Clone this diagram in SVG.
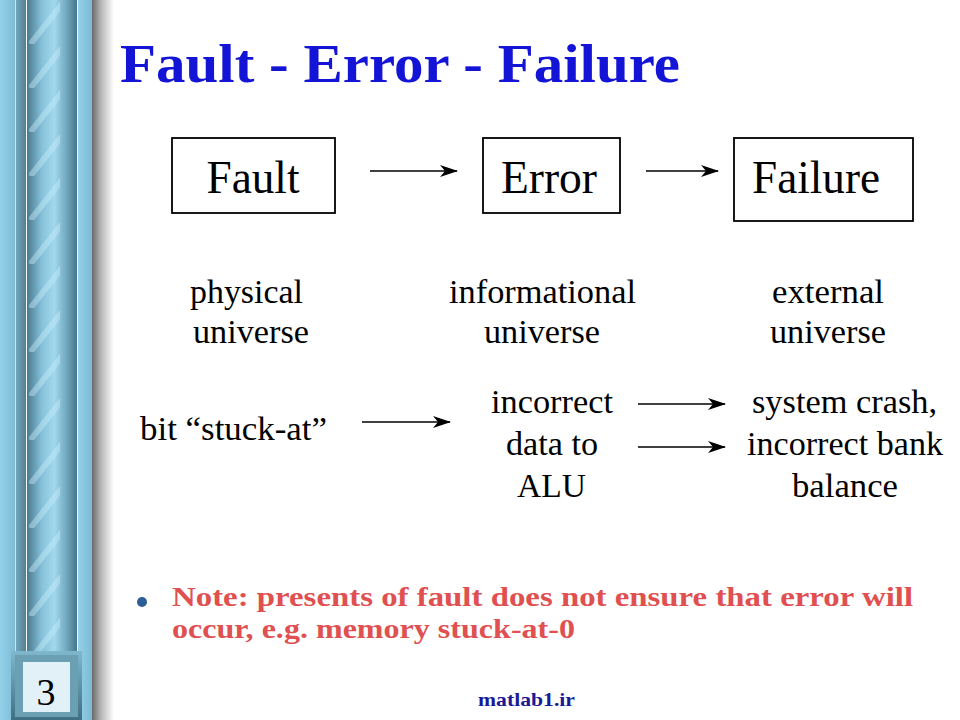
<svg xmlns="http://www.w3.org/2000/svg" width="960" height="720" viewBox="0 0 960 720">
<style>
.t{font-family:"Liberation Serif","Times New Roman",serif;fill:#000}
.box{fill:#fff;stroke:#000;stroke-width:1.8}
.lbl{font-size:34px}
.conn{stroke:#000;stroke-width:1.6;fill:none;marker-end:url(#ah)}
</style>
<defs>
<marker id="ah" viewBox="0 0 18 12" refX="17" refY="6" markerWidth="18" markerHeight="12" markerUnits="userSpaceOnUse" orient="auto">
<path d="M0,0 L18,6 L0,12 L5,6 Z" fill="#000"/>
</marker>
<linearGradient id="col" x1="0" x2="1" y1="0" y2="0">
<stop offset="0" stop-color="#4a7a8f"/>
<stop offset="0.3" stop-color="#86c2da"/>
<stop offset="0.55" stop-color="#a2d8ee"/>
<stop offset="0.8" stop-color="#6fa6bc"/>
<stop offset="1" stop-color="#46768a"/>
</linearGradient>
<linearGradient id="side" x1="0" x2="1" y1="0" y2="0">
<stop offset="0" stop-color="#93d0ea"/>
<stop offset="1" stop-color="#7cb9d3"/>
</linearGradient>
<linearGradient id="dark" x1="0" x2="1" y1="0" y2="0">
<stop offset="0" stop-color="#6fa7bd"/>
<stop offset="1" stop-color="#557f92"/>
</linearGradient>
<linearGradient id="shadow" x1="0" x2="1" y1="0" y2="0">
<stop offset="0" stop-color="#6a6a6a"/>
<stop offset="0.4" stop-color="#b5b5b5"/>
<stop offset="1" stop-color="#ffffff"/>
</linearGradient>
<pattern id="stripes" x="0" y="0" width="60" height="44" patternUnits="userSpaceOnUse">
<path d="M32,42 L62,4" stroke="#c6ecfa" stroke-width="6" stroke-opacity="0.45" stroke-linecap="round" fill="none"/>
</pattern>
<linearGradient id="frame" x1="0" x2="0" y1="0" y2="1">
<stop offset="0" stop-color="#7fb8cd"/>
<stop offset="1" stop-color="#3f6f83"/>
</linearGradient>
</defs>

<rect x="0" y="0" width="960" height="720" fill="#fff"/>

<g id="sidebar">
<rect x="92" y="0" width="22" height="720" fill="url(#shadow)"/>
<rect x="0" y="0" width="16" height="720" fill="url(#side)"/>
<rect x="15" y="0" width="1" height="720" fill="#c2e6f4"/>
<rect x="16" y="0" width="10" height="720" fill="url(#dark)"/>
<rect x="26" y="0" width="1.2" height="720" fill="#f4fbff"/>
<rect x="27" y="0" width="50" height="720" fill="url(#col)"/>
<rect x="27" y="0" width="50" height="720" fill="url(#stripes)"/>
<rect x="77" y="0" width="1.2" height="720" fill="#f4fbff"/>
<rect x="78" y="0" width="14" height="720" fill="url(#side)"/>
</g>

<g id="page-number">
<rect x="11" y="651" width="71" height="69" fill="url(#frame)"/>
<rect x="15" y="655" width="63" height="62" fill="#6a9fb4"/>
<rect x="23" y="662" width="47" height="50" fill="#e2f0f7"/>
<text class="t" x="46" y="705" font-size="38" text-anchor="middle">3</text>
</g>

<text id="title" x="120" y="82" font-family="Liberation Serif,Times New Roman,serif" font-weight="bold" font-size="55" fill="#1414d6" textLength="560" lengthAdjust="spacingAndGlyphs">Fault - Error - Failure</text>

<g id="fault">
<rect class="box" x="172" y="138" width="163" height="75"/>
<text class="t" x="253" y="193" font-size="46" text-anchor="middle" textLength="93" lengthAdjust="spacingAndGlyphs">Fault</text>
</g>
<g id="error">
<rect class="box" x="483" y="138" width="137" height="75"/>
<text class="t" x="549" y="193" font-size="46" text-anchor="middle" textLength="96" lengthAdjust="spacingAndGlyphs">Error</text>
</g>
<g id="failure">
<rect class="box" x="734" y="138" width="179" height="83"/>
<text class="t" x="816" y="193" font-size="46" text-anchor="middle" textLength="128" lengthAdjust="spacingAndGlyphs">Failure</text>
</g>

<g id="universes" class="t lbl">
<text x="190" y="303" textLength="113" lengthAdjust="spacingAndGlyphs">physical</text>
<text x="193" y="343" textLength="116" lengthAdjust="spacingAndGlyphs">universe</text>
<text x="449" y="303" textLength="187" lengthAdjust="spacingAndGlyphs">informational</text>
<text x="484" y="343" textLength="116" lengthAdjust="spacingAndGlyphs">universe</text>
<text x="772" y="303" textLength="112" lengthAdjust="spacingAndGlyphs">external</text>
<text x="770" y="343" textLength="116" lengthAdjust="spacingAndGlyphs">universe</text>
</g>

<g id="example" class="t lbl">
<text x="140" y="440" textLength="187" lengthAdjust="spacingAndGlyphs">bit “stuck-at”</text>
<text x="491" y="413" textLength="122" lengthAdjust="spacingAndGlyphs">incorrect</text>
<text x="506" y="455" textLength="92" lengthAdjust="spacingAndGlyphs">data to</text>
<text x="517" y="497" textLength="69" lengthAdjust="spacingAndGlyphs">ALU</text>
<text x="752" y="413" textLength="185" lengthAdjust="spacingAndGlyphs">system crash,</text>
<text x="747" y="455" textLength="196" lengthAdjust="spacingAndGlyphs">incorrect bank</text>
<text x="792" y="497" textLength="106" lengthAdjust="spacingAndGlyphs">balance</text>
</g>

<g id="connectors">
<line class="conn" x1="370" y1="171" x2="457" y2="171"/>
<line class="conn" x1="646" y1="171" x2="718" y2="171"/>
<line class="conn" x1="362" y1="422" x2="450" y2="422"/>
<line class="conn" x1="638" y1="404" x2="725" y2="404"/>
<line class="conn" x1="638" y1="447" x2="725" y2="447"/>
</g>

<g id="note">
<circle cx="142" cy="602" r="5" fill="#2b5d96"/>
<text x="172" y="606" font-family="Liberation Serif,Times New Roman,serif" font-weight="bold" font-size="28" fill="#e05050" textLength="741" lengthAdjust="spacingAndGlyphs">Note: presents of fault does not ensure that error will</text>
<text x="172" y="638" font-family="Liberation Serif,Times New Roman,serif" font-weight="bold" font-size="28" fill="#e05050" textLength="403" lengthAdjust="spacingAndGlyphs">occur, e.g. memory stuck-at-0</text>
</g>

<text id="footer" x="478" y="706" font-family="Liberation Serif,Times New Roman,serif" font-weight="bold" font-size="19" fill="#1a1a96" textLength="97" lengthAdjust="spacingAndGlyphs">matlab1.ir</text>
</svg>
